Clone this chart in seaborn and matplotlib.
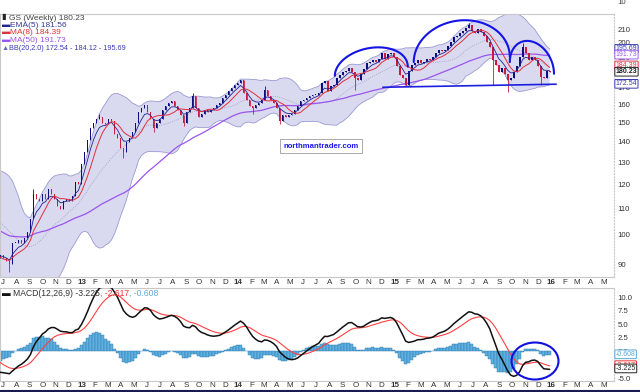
import numpy as np
import pandas as pd
import matplotlib
matplotlib.use('Agg')
import matplotlib.pyplot as plt
import matplotlib.dates as mdates
from matplotlib.patches import Ellipse
import seaborn as sns

# weekly closes (dividend adjusted), weeks starting on Monday
# warm-up weeks before the visible window, needed by MA(50), BB(20) and MACD
pre_start = '2011-06-27'
pre_closes = [124, 125, 122, 123, 121, 115, 107, 100, 102, 101, 96, 99, 90, 88,
              92, 100, 99, 105, 97, 95, 91, 85, 91, 90, 86, 86, 84,
              96, 101, 106, 110, 112, 113, 112, 112, 114, 116, 120, 119, 119,
              113, 108, 107, 108, 103, 97, 92, 93, 89, 90, 92, 92, 93]

# visible weeks, 2012-07-02 .. 2015-12-28
closes = [
    # 2012
    92, 91, 90, 97, 97, 98, 97, 99, 101, 106, 116, 114, 113, 116, 114, 118,
    116, 114, 111, 110, 113, 114, 113, 115, 121, 120, 129,
    # 2013
    135, 141, 147, 150, 152, 153, 150, 149, 152, 151, 144, 142, 137, 135,
    140, 142, 145, 150, 156, 158, 160, 156, 152, 147, 150, 152, 157, 159,
    161, 162, 159, 157, 154, 150, 156, 158, 165, 158, 153, 155, 157, 156,
    157, 158, 160, 161, 164, 166, 168, 170, 172, 173,
    # 2014
    175, 167, 163, 159, 158, 160, 161, 163, 169, 165, 163, 161, 158, 151,
    154, 153, 154, 155, 157, 159, 162, 163, 164, 165, 166, 166, 167, 173,
    174, 168, 171, 172, 176, 178, 180, 181, 183, 180, 176, 175, 179, 182,
    186, 187, 188, 187, 189, 193, 189, 192, 193, 190,
    # 2015
    184, 178, 176, 172, 181, 185, 186, 188, 186, 187, 189, 188, 190, 193,
    195, 194, 195, 198, 201, 204, 205, 207, 209, 211, 213, 209, 207, 210,
    208, 205, 201, 197, 188, 185, 180, 183, 179, 175, 176, 180, 184, 190,
    197, 193, 188, 190, 188, 184, 177, 176, 181, 180.23,
]

# long wicks that stand out (index into closes)
wick_lows = {2: 87.5, 40: 132, 50: 145, 60: 148, 83: 155, 92: 149,
             117: 169, 134: 171, 163: 171.5, 168: 167.5, 179: 172}
wick_highs = {10: 118, 32: 154.5, 63: 167, 87: 171, 155: 215, 173: 200}

# drawn annotations: arcs (left date, right date, left, right, peak) and neckline
arcs = [('2014-08-14', '2015-01-31', 177.6, 183.6, 196.5),
        ('2015-02-14', '2015-09-26', 186.6, 190.1, 217.0),
        ('2015-09-26', '2016-01-07', 186.6, 178.9, 201.0)]
neck_dates = ['2014-12-04', '2016-01-12']
neck_prices = [170.4, 172.3]

price_ticks = [90, 100, 110, 120, 130, 140, 150, 160, 170, 180, 190, 200, 210]
macd_ticks = [-5.0, -2.5, 0.0, 2.5, 5.0, 7.5, 10.0]

price_tags = [(195.69, '195.69', '#3838b8', False),
              (191.73, '191.73', '#a060f0', False),
              (184.39, '184.39', '#e0304a', False),
              (180.23, '180.23', '#222222', True),
              (172.54, '172.54', '#3838b8', False)]
macd_tags = [(-0.608, '-0.608', '#58a8dc'),
             (-2.617, '-2.617', '#ff3030'),
             (-3.225, '-3.225', '#222222')]

UP = '#0d0d80'
DOWN = '#cc1a3c'

sns.set_style('white')
plt.rcParams['font.family'] = ['Liberation Sans', 'DejaVu Sans']

all_closes = pre_closes + closes
n_pre = len(pre_closes)
df = pd.DataFrame({'date': pd.date_range(pre_start, periods=len(all_closes), freq='7D'),
                   'close': all_closes})
df['x'] = mdates.date2num(df['date'])
df['open'] = df['close'].shift(1).fillna(df['close'])
df['high'] = df[['open', 'close']].max(axis=1)
df['low'] = df[['open', 'close']].min(axis=1)
for i, v in wick_lows.items():
    df.loc[n_pre + i, 'low'] = v
for i, v in wick_highs.items():
    df.loc[n_pre + i, 'high'] = v

# indicators
c = df['close']
df['ema5'] = c.ewm(span=5, adjust=False).mean()
df['ma8'] = c.rolling(8).mean()
df['ma50'] = c.rolling(50).mean()
df['bb_mid'] = c.rolling(20).mean()
sd = c.rolling(20).std(ddof=0)
df['bb_up'] = df['bb_mid'] + 2 * sd
df['bb_lo'] = df['bb_mid'] - 2 * sd
df['macd'] = c.ewm(span=12, adjust=False).mean() - c.ewm(span=26, adjust=False).mean()
df['signal'] = df['macd'].ewm(span=9, adjust=False).mean()
df['hist'] = df['macd'] - df['signal']

W, H = 640, 392
def fx(px):
    return px / W
def fy(py):
    return 1 - py / H

fig = plt.figure(figsize=(6.4, 3.92), dpi=100)
ax = fig.add_axes([0, fy(277), fx(614), fy(14) - fy(277)])
ax2 = fig.add_axes([0, fy(381), fx(614), fy(288) - fy(381)])

# ---- price panel ----
bb = df.dropna(subset=['bb_mid'])
ax.fill_between(bb['x'], bb['bb_lo'], bb['bb_up'], color='#d9d9f0', lw=0, zorder=1)
sns.lineplot(data=bb, x='x', y='bb_up', ax=ax, color='#9a9ad2', lw=0.6, estimator=None, zorder=2)
sns.lineplot(data=bb, x='x', y='bb_lo', ax=ax, color='#9a9ad2', lw=0.6, estimator=None, zorder=2)
sns.lineplot(data=bb, x='x', y='bb_mid', ax=ax, color='#9898c0', lw=0.6, ls=':', estimator=None, zorder=2)
sns.lineplot(data=df, x='x', y='ma50', ax=ax, color='#9a55ee', lw=0.9, estimator=None, zorder=2)

up = df['close'] >= df['open']
cols = np.where(up, UP, DOWN)
body_lo = df[['open', 'close']].min(axis=1)
body_h = (df['close'] - df['open']).abs().clip(lower=0.5)
ax.vlines(df['x'], df['low'], df['high'], colors=cols, lw=0.6, zorder=3)
ax.bar(df['x'], body_h, bottom=body_lo, width=4.3, color=cols, lw=0, zorder=3)

sns.lineplot(data=df, x='x', y='ema5', ax=ax, color='#23238f', lw=0.6, estimator=None, zorder=4)
sns.lineplot(data=df, x='x', y='ma8', ax=ax, color='#e0303e', lw=0.7, estimator=None, zorder=4)

# pattern annotations
for d0, d1, p0, p1, pk in arcs:
    x0, x1 = mdates.datestr2num(d0), mdates.datestr2num(d1)
    t = np.linspace(0, np.pi, 120)
    xs = (x0 + x1) / 2 - (x1 - x0) / 2 * np.cos(t)
    base = np.log(p0) + (np.log(p1) - np.log(p0)) * (1 - np.cos(t)) / 2
    bump = np.log(pk) - (np.log(p0) + np.log(p1)) / 2
    ax.plot(xs, np.exp(base + bump * np.sin(t)), color='#1414e6', lw=1.5, zorder=5)
ax.plot(mdates.datestr2num(neck_dates), neck_prices, color='#1e1ee0', lw=1.2, zorder=5)

ax.set_yscale('log')
ax.set_ylim(85.9, 222)
ax.yaxis.set_minor_locator(matplotlib.ticker.NullLocator())
ax.set_yticks(price_ticks)
ax.set_yticklabels([str(v) for v in price_ticks])

# ---- MACD panel ----
ax2.bar(df['x'], df['hist'], width=7, color='#5eb0e0', edgecolor='#2a78ad', lw=0.3, zorder=2)
sns.lineplot(data=df, x='x', y='signal', ax=ax2, color='#ff4040', lw=0.8, estimator=None, zorder=3)
sns.lineplot(data=df, x='x', y='macd', ax=ax2, color='#111111', lw=1.1, estimator=None, zorder=4)
ax2.set_ylim(-5.55, 11.67)
ax2.set_yticks(macd_ticks)
ax2.set_yticklabels(['%.1f' % v for v in macd_ticks])
fig.add_artist(Ellipse((fx(535), fy(361)), 47 / W, 37 / H, transform=fig.transFigure,
                       fill=False, edgecolor='#1010e0', lw=1.5))

# ---- shared x axis ----
months = pd.date_range('2012-07-01', '2016-05-01', freq='MS')
mlabels = [str(d.year)[2:] if d.month == 1 else 'JFMAMJJASOND'[d.month - 1] for d in months]
for a in (ax, ax2):
    a.set_xlim(mdates.datestr2num('2012-06-24'), mdates.datestr2num('2016-05-26'))
    a.set_xticks(mdates.date2num(months))
    a.set_xticklabels(mlabels)
    for lab, d in zip(a.get_xticklabels(), months):
        if d.month == 1:
            lab.set_fontweight('bold')
    a.yaxis.tick_right()
    a.tick_params(axis='x', labelsize=5.8, pad=1.5, length=0, colors='#333333')
    a.tick_params(axis='y', labelsize=5.6, pad=2.5, length=0, colors='#333333')
    a.set_xlabel('')
    a.set_ylabel('')
    for s in a.spines.values():
        s.set_color('#c8c8c8')
        s.set_linewidth(0.8)
    a.spines['right'].set_linestyle(':')
ax2.tick_params(axis='x', pad=0.5)

# right side value tags
for val, txt, col, bold in price_tags:
    ax.annotate(txt, xy=(1.0, val), xycoords=('axes fraction', 'data'), xytext=(1.2, 0),
                textcoords='offset points', fontsize=5.0, va='center', ha='left',
                color=col, fontweight='bold' if bold else 'normal', annotation_clip=False,
                bbox=dict(boxstyle='round,pad=0.12', fc='white', ec=col, lw=0.7), zorder=6)
for val, txt, col in macd_tags:
    ax2.annotate(txt, xy=(1.0, val), xycoords=('axes fraction', 'data'), xytext=(1.2, 0),
                 textcoords='offset points', fontsize=5.0, va='center', ha='left',
                 color=col, annotation_clip=False,
                 bbox=dict(boxstyle='round,pad=0.12', fc='white', ec=col, lw=0.7), zorder=6)

# ---- legends ----
renderer = fig.canvas.get_renderer()
def text_run(x_px, y_px, parts, size=6.0):
    x = x_px
    for s, col in parts:
        t = fig.text(fx(x), fy(y_px), s, color=col, fontsize=size, va='center', ha='left')
        x += t.get_window_extent(renderer).width

text_run(2, 18, [('\u25ae ', '#222222'), ('GS (Weekly) 180.23', '#444444')])
text_run(2, 25.5, [('\u25ac', '#23238f'), ('EMA(5) 181.56', '#3a3a9a')])
text_run(2, 33, [('\u25ac', '#e0303e'), ('MA(8) 184.39', '#e0303e')])
text_run(2, 40.5, [('\u25ac', '#9a55ee'), ('MA(50) 191.73', '#9a55ee')])
text_run(2, 48, [('\u25b2', '#6a6ac8'), ('BB(20,2.0) 172.54 - 184.12 - 195.69', '#3838b8')], size=5.2)
text_run(2, 293, [('\u25ac ', '#111111'), ('MACD(12,26,9) -3.225', '#333333'),
                  (', -2.617', '#ff3030'), (', -0.608', '#58a8dc')], size=6.2)

fig.text(fx(617), fy(3), '10', fontsize=5.6, color='#444444', va='center', ha='left')
fig.text(fx(321), fy(146), 'northmantrader.com', fontsize=5.6, fontweight='bold',
         color='#1a1aee', ha='center', va='center',
         bbox=dict(boxstyle='square,pad=0.45', fc='white', ec='#aaaaaa', lw=0.7))
fig.add_artist(matplotlib.lines.Line2D([0, 1], [fy(390.5), fy(390.5)], transform=fig.transFigure,
                                       color='#1a1a50', lw=1.5))

fig.savefig('out.png', dpi=100)
